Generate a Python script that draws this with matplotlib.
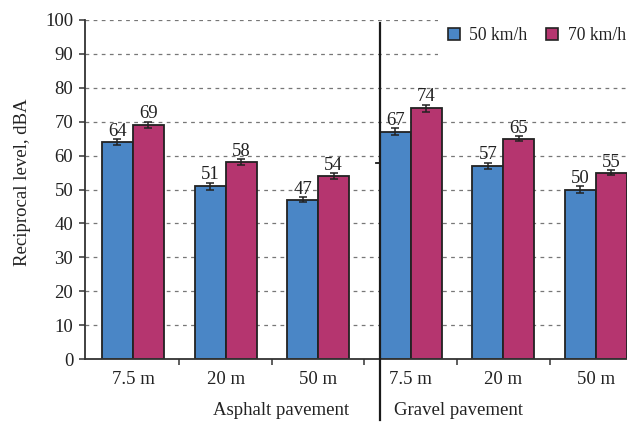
import matplotlib
matplotlib.use("Agg")
import matplotlib.pyplot as plt
import matplotlib.transforms as mtransforms
from matplotlib.patches import Rectangle, Patch
import numpy as np

plt.rcParams['font.family'] = ['Liberation Serif', 'DejaVu Serif']

distances = ["7.5 m", "20 m", "50 m", "7.5 m", "20 m", "50 m"]
pavements = ["Asphalt pavement", "Gravel pavement"]
series_names = ["50 km/h", "70 km/h"]
level_50 = [64, 51, 47, 67, 57, 50]
level_70 = [69, 58, 54, 74, 65, 55]
err_50 = [0.9, 1.0, 0.8, 1.0, 0.9, 0.9]
err_70 = [1.0, 0.9, 0.8, 1.0, 0.8, 0.7]

blue = "#4A86C6"
magenta = "#B5356F"
edge = "#222222"
text_col = "#222222"
fs = 13.5

fig = plt.figure(figsize=(6.27, 4.22), dpi=100)
ax = fig.add_axes([85 / 627, 1 - 359 / 422, 542 / 627, 339 / 422])

x = np.arange(len(distances))
w = 0.335

ax.set_xlim(-0.518, 5.335)
ax.set_ylim(0, 100)

# dashed horizontal grid
for yv in range(10, 101, 10):
    ax.axhline(yv, color="#777777", lw=0.9, ls=(0, (3, 3.5)), zorder=0)

# white panel behind the legend
ax.add_patch(Rectangle((0.651, 0.876), 0.36, 0.16, transform=ax.transAxes,
                       facecolor="white", edgecolor="none", zorder=0.5,
                       clip_on=False))

ekw = dict(ecolor=edge, elinewidth=1.1, capsize=3.2, capthick=1.1)
ax.bar(x - w / 2, level_50, w, color=blue, edgecolor=edge, linewidth=1.3,
       yerr=err_50, error_kw=ekw, zorder=2)
ax.bar(x + w / 2, level_70, w, color=magenta, edgecolor=edge, linewidth=1.3,
       yerr=err_70, error_kw=ekw, zorder=2)

for xi, v, e in zip(x, level_50, err_50):
    ax.text(xi - w / 2, v + e + 1.0, f"{v}", ha="center", va="baseline",
            fontsize=fs, color=text_col, zorder=3)
for xi, v, e in zip(x, level_70, err_70):
    ax.text(xi + w / 2, v + e + 1.0, f"{v}", ha="center", va="baseline",
            fontsize=fs, color=text_col, zorder=3)

# axes styling
for s in ["top", "right"]:
    ax.spines[s].set_visible(False)
ax.spines["left"].set_color("#333333")
ax.spines["left"].set_linewidth(1.3)
ax.spines["bottom"].set_color("#333333")
ax.spines["bottom"].set_linewidth(1.3)

ax.set_yticks(np.arange(0, 101, 10))
ax.tick_params(axis="y", direction="out", length=4, width=1.1, color="#333333",
               labelsize=fs, labelcolor=text_col, pad=4.5)

ax.set_xticks(x[:-1] + 0.5)
ax.set_xticklabels([])
ax.tick_params(axis="x", which="major", direction="out", length=4, width=1.1,
               color="#333333")
ax.set_xticks(x, distances, minor=True)
ax.tick_params(axis="x", which="minor", length=0, labelsize=fs,
               labelcolor=text_col, pad=8.5)

# group captions under the distance labels
cap_tr = mtransforms.blended_transform_factory(ax.transData, ax.transAxes)
ax.text(1.598, -0.152, pavements[0], transform=cap_tr, ha="center",
        va="center", fontsize=fs, color=text_col)
ax.text(3.52, -0.152, pavements[1], transform=cap_tr, ha="center",
        va="center", fontsize=fs, color=text_col)

# vertical separator between the two pavement groups
sep_x = 3 - w
sep_tr = mtransforms.blended_transform_factory(ax.transData, fig.transFigure)
ax.plot([sep_x, sep_x], [1 - 23 / 422, 1 - 420 / 422], color="#1a1a1a",
        lw=1.6, transform=sep_tr, clip_on=False, zorder=4)
ax.plot([sep_x - 0.045, sep_x], [57.8, 57.8], color="#1a1a1a", lw=1.3,
        zorder=4, clip_on=False)

fig.text(23 / 627, 1 - 182 / 422, "Reciprocal level, dBA", rotation=90,
         ha="center", va="center", fontsize=fs, color=text_col)

handles = [Patch(facecolor=blue, edgecolor=edge, linewidth=1.2),
           Patch(facecolor=magenta, edgecolor=edge, linewidth=1.2)]
ax.legend(handles, series_names, loc="center right",
          bbox_to_anchor=(0.998, 0.953), ncol=2, frameon=False, fontsize=12.7,
          handlelength=0.68, handleheight=0.68, handletextpad=0.55,
          columnspacing=1.05, borderaxespad=0, borderpad=0,
          labelcolor=text_col)

fig.savefig("out.png", dpi=100)
